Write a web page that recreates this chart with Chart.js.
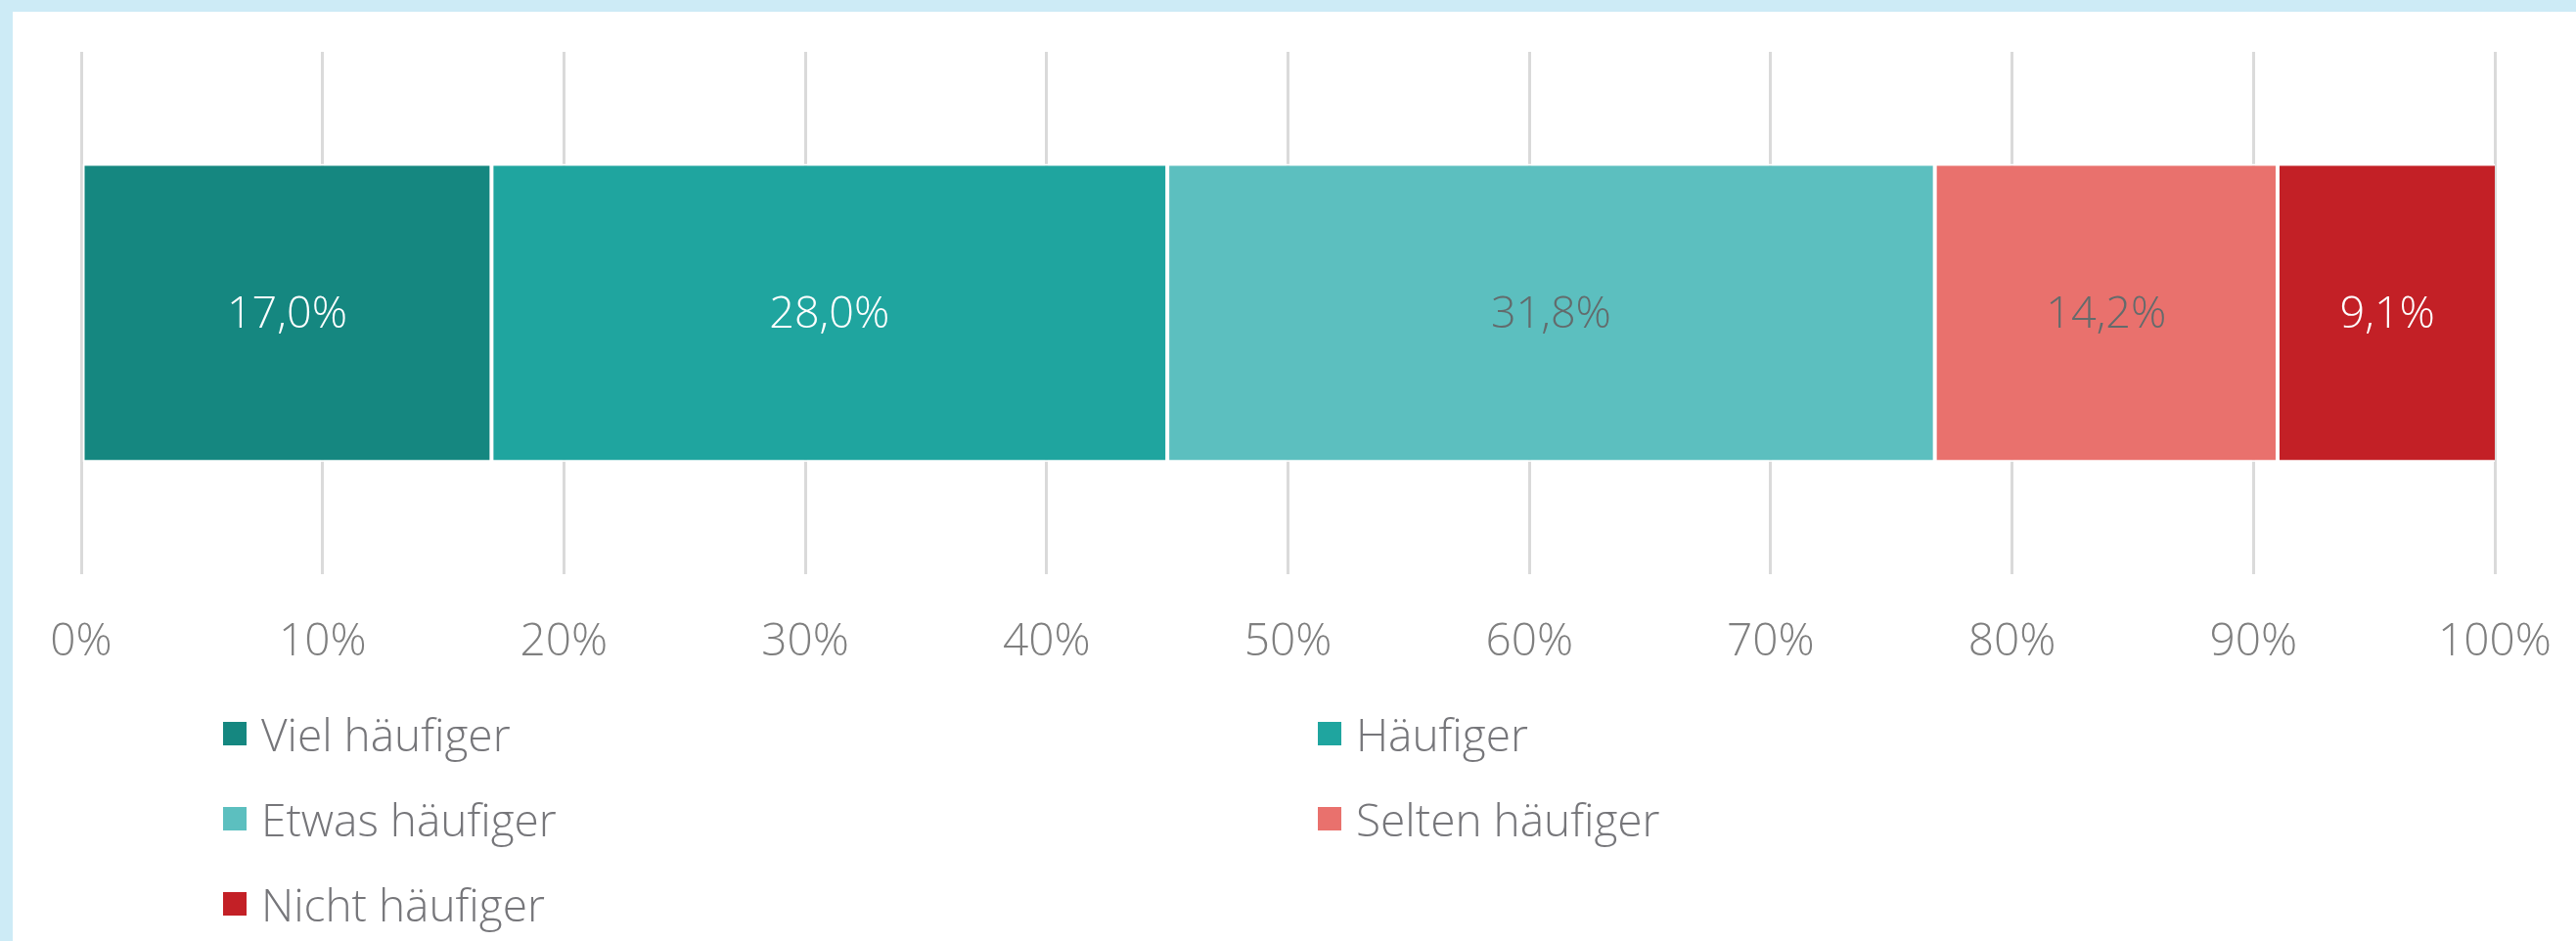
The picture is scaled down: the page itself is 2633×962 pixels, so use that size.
<!DOCTYPE html>
<html>
<head>
<meta charset="utf-8">
<script src="https://cdn.jsdelivr.net/npm/chart.js@4.4.1/dist/chart.umd.min.js"></script>
<style>
  html, body { margin: 0; padding: 0; background: #ffffff; width: 2633px; height: 962px; overflow: hidden; }
  #topBar { position: absolute; left: 0; top: 0; width: 2633px; height: 12px; background: #cdebf6; }
  #leftBar { position: absolute; left: 0; top: 0; width: 13px; height: 962px; background: #cdebf6; }
  #wrap { position: absolute; left: 0; top: 0; width: 2633px; height: 704px; }
  #legend { position: absolute; left: 0; top: 0; width: 2633px; height: 962px; pointer-events: none; }
  .item { position: absolute; display: flex; align-items: center; height: 60px; }
  .box { width: 24px; height: 24px; margin-right: 15px; }
  .lbl { font-family: 'Open Sans', sans-serif; font-weight: 300; font-size: 46px; color: #76767a; line-height: 60px; white-space: nowrap; }
</style>
</head>
<body>
<div id="topBar"></div>
<div id="leftBar"></div>
<div id="wrap"><canvas id="c"></canvas></div>
<div id="legend"></div>
<script>
// ---- data ----
const categories = [''];
const seriesNames = ['Viel häufiger', 'Häufiger', 'Etwas häufiger', 'Selten häufiger', 'Nicht häufiger'];
const seriesValues = [17.0, 28.0, 31.8, 14.2, 9.1];
const seriesColors = ['#158780', '#1fa59f', '#5cbfbf', '#e9716d', '#c32026'];
const labelColors = ['#ffffff', '#ffffff', '#636b6c', '#636b6c', '#ffffff'];
const tickValues = [0, 10, 20, 30, 40, 50, 60, 70, 80, 90, 100];
const tickLabels = ['0%', '10%', '20%', '30%', '40%', '50%', '60%', '70%', '80%', '90%', '100%'];

const FONT = "'Open Sans', sans-serif";

const datasets = seriesNames.map((name, i) => ({
  label: name,
  data: [seriesValues[i]],
  backgroundColor: seriesColors[i],
  borderColor: '#ffffff',
  borderWidth: 2,
  borderSkipped: false,
  categoryPercentage: 1.0,
  barPercentage: 0.571
}));

const barLabels = {
  id: 'barLabels',
  afterDatasetsDraw(chart) {
    const ctx = chart.ctx;
    ctx.save();
    ctx.font = '300 45px ' + FONT;
    ctx.textAlign = 'center';
    ctx.textBaseline = 'middle';
    chart.data.datasets.forEach((ds, i) => {
      const meta = chart.getDatasetMeta(i);
      meta.data.forEach((el, j) => {
        const v = ds.data[j];
        const cx = (el.x + el.base) / 2;
        ctx.fillStyle = labelColors[i];
        ctx.fillText(v.toFixed(1).replace('.', ',') + '%', cx, el.y + 2);
      });
    });
    ctx.restore();
  }
};

new Chart(document.getElementById('c'), {
  type: 'bar',
  data: { labels: categories, datasets },
  options: {
    indexAxis: 'y',
    responsive: true,
    maintainAspectRatio: false,
    animation: false,
    layout: { padding: { left: 83, right: 83, top: 53, bottom: 20 } },
    plugins: { legend: { display: false }, tooltip: { enabled: false } },
    scales: {
      x: {
        stacked: true,
        min: 0,
        max: 100,
        afterBuildTicks(scale) { scale.ticks = tickValues.map(v => ({ value: v })); },
        grid: { color: '#dadada', lineWidth: 3, drawTicks: true, tickLength: 42, tickColor: 'rgba(0,0,0,0)' },
        border: { display: false },
        ticks: {
          padding: 0,
          color: '#7f7f7f',
          font: { family: FONT, size: 46, weight: 300 },
          callback(value) { const k = tickValues.indexOf(value); return k >= 0 ? tickLabels[k] : ''; }
        }
      },
      y: {
        stacked: true,
        display: false
      }
    }
  },
  plugins: [barLabels]
});

// ---- legend (HTML) ----
const legendPos = [
  [228, 750], [1347, 750],
  [228, 837], [1347, 837],
  [228, 924]
];
const legendEl = document.getElementById('legend');
seriesNames.forEach((name, i) => {
  const it = document.createElement('div');
  it.className = 'item';
  it.style.left = legendPos[i][0] + 'px';
  it.style.top = (legendPos[i][1] - 30) + 'px';
  const b = document.createElement('div');
  b.className = 'box';
  b.style.background = seriesColors[i];
  const t = document.createElement('span');
  t.className = 'lbl';
  t.textContent = name;
  it.appendChild(b); it.appendChild(t);
  legendEl.appendChild(it);
});
</script>
</body>
</html>
